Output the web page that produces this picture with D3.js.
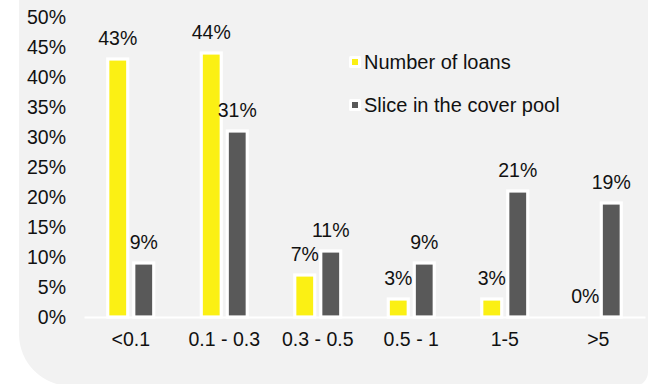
<!DOCTYPE html>
<html>
<head>
<meta charset="utf-8">
<script src="https://cdn.jsdelivr.net/npm/d3@7"></script>
<style>
  body { margin: 0; background: #fff; }
  svg { display: block; font-family: "Liberation Sans", Arial, sans-serif; }
</style>
</head>
<body>
<script>
// chart data
const categories = ['<0.1', '0.1 - 0.3', '0.3 - 0.5', '0.5 - 1', '1-5', '>5'];
const seriesNames = ['Number of loans', 'Slice in the cover pool'];
const numberOfLoans = [0.43, 0.44, 0.07, 0.03, 0.03, 0.00];
const sliceInPool = [0.09, 0.31, 0.11, 0.09, 0.21, 0.19];
const yTicks = [0, 0.05, 0.10, 0.15, 0.20, 0.25, 0.30, 0.35, 0.40, 0.45, 0.50];

const colors = ['#fbf014', '#595959'];
const width = 650, height = 384;
const fontSize = 19.5;

const svg = d3.select('body').append('svg')
  .attr('width', width)
  .attr('height', height);

// grey panel, rounded at the bottom corners
const px0 = 19, px1 = 648, py1 = 386, rl = 52, rr = 14;
svg.append('path')
  .attr('d', `M${px0},0 H${px1} V${py1 - rr} A${rr},${rr} 0 0 1 ${px1 - rr},${py1}` +
             ` H${px0 + rl} A${rl},${rl} 0 0 1 ${px0},${py1 - rl} Z`)
  .attr('fill', '#f2f2f2');

const x0 = d3.scaleBand()
  .domain(categories)
  .range([84, 645]);

const x1 = d3.scaleBand()
  .domain(seriesNames)
  .range([-23, 23])
  .paddingInner(6 / 26);

const y = d3.scaleLinear()
  .domain([0, 0.5])
  .range([317, 17]);

// y axis (labels only)
const yAxis = svg.append('g')
  .attr('transform', 'translate(84,0)')
  .call(d3.axisLeft(y).tickValues(yTicks).tickSize(0).tickPadding(18).tickFormat(d3.format('.0%')));
yAxis.select('.domain').remove();
yAxis.selectAll('text')
  .attr('font-size', fontSize)
  .attr('font-family', '"Liberation Sans", Arial, sans-serif')
  .attr('fill', '#111');

// bars
const rows = categories.map((c, i) => ({ cat: c, vals: [numberOfLoans[i], sliceInPool[i]] }));

const groups = svg.selectAll('.grp')
  .data(rows)
  .enter()
  .append('g')
  .attr('class', 'grp')
  .attr('transform', d => `translate(${x0(d.cat) + x0.bandwidth() / 2},0)`);

const bars = groups.selectAll('.bar')
  .data(d => d.vals.map((v, k) => ({ series: seriesNames[k], k: k, v: v })))
  .enter()
  .append('g')
  .attr('class', 'bar');

bars.filter(d => d.v > 0)
  .append('rect')
  .attr('x', d => x1(d.series))
  .attr('y', d => y(d.v))
  .attr('width', x1.bandwidth())
  .attr('height', d => y(0) - y(d.v))
  .attr('fill', d => colors[d.k])
  .attr('stroke', '#fff')
  .attr('stroke-width', 3.2);

bars.append('text')
  .attr('x', d => x1(d.series) + x1.bandwidth() / 2)
  .attr('y', d => y(d.v) - 14.5)
  .attr('text-anchor', 'middle')
  .attr('font-size', fontSize)
  .attr('fill', '#111')
  .text(d => d3.format('.0%')(d.v));

// x axis
const xAxis = svg.append('g')
  .attr('transform', `translate(0,${y(0)})`)
  .call(d3.axisBottom(x0).tickSize(0).tickPadding(15).tickSizeOuter(0));
xAxis.select('.domain')
  .attr('stroke', '#fff')
  .attr('stroke-width', 2);
xAxis.selectAll('text')
  .attr('font-size', fontSize)
  .attr('font-family', '"Liberation Sans", Arial, sans-serif')
  .attr('fill', '#111');

// legend
const legend = svg.selectAll('.legend')
  .data(seriesNames)
  .enter()
  .append('g')
  .attr('class', 'legend')
  .attr('transform', (d, i) => `translate(355,${62 + i * 43})`);

legend.append('rect')
  .attr('x', -6)
  .attr('y', -6)
  .attr('width', 12)
  .attr('height', 12)
  .attr('rx', 1.5)
  .attr('fill', '#fff');

legend.append('rect')
  .attr('x', -3)
  .attr('y', -3)
  .attr('width', 6)
  .attr('height', 6)
  .attr('fill', (d, i) => colors[i]);

legend.append('text')
  .attr('x', 9)
  .attr('y', 6.5)
  .attr('font-size', 20)
  .attr('fill', '#111')
  .text(d => d);
</script>
</body>
</html>
